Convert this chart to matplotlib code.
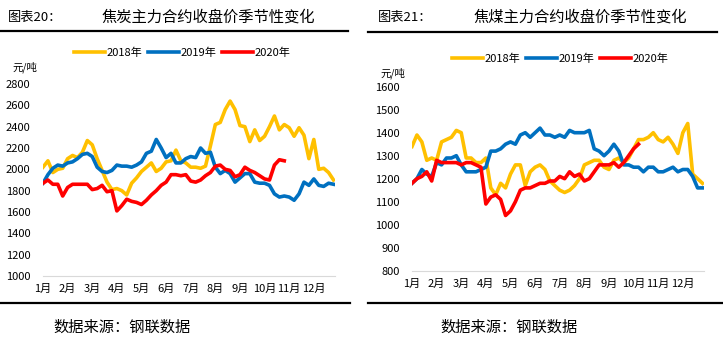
import numpy as np
import matplotlib
matplotlib.use("Agg")
import matplotlib.pyplot as plt
from matplotlib.lines import Line2D

plt.rcParams['font.family'] = ['Noto Sans CJK SC', 'DejaVu Sans']

# x axis: one point every 0.2 month
months = ["1月", "2月", "3月", "4月", "5月", "6月", "7月", "8月", "9月", "10月", "11月", "12月"]
years = ["2018年", "2019年", "2020年"]
colors = ["#FFC000", "#0070C0", "#FF0000"]

# 焦炭 (coke)
coke_2018 = [2020, 2080, 1970, 2000, 2010, 2100, 2130, 2110, 2160, 2270,
             2230, 2100, 1990, 1880, 1810, 1820, 1800, 1760, 1870, 1920,
             1980, 2020, 2060, 1980, 2010, 2070, 2080, 2180, 2080, 2060,
             2020, 2020, 2010, 2030, 2220, 2420, 2440, 2560, 2640, 2560,
             2410, 2400, 2260, 2370, 2270, 2310, 2400, 2500, 2370, 2420,
             2390, 2310, 2390, 2320, 2100, 2280, 2000, 2010, 1970, 1900]
coke_2019 = [1870, 1950, 2010, 2040, 2030, 2060, 2070, 2100, 2140, 2150,
             2120, 2020, 1980, 1970, 1990, 2040, 2030, 2030, 2020, 2040,
             2070, 2150, 2170, 2280, 2200, 2110, 2150, 2060, 2060, 2100,
             2120, 2110, 2200, 2150, 2160, 2020, 1960, 1990, 1960, 1880,
             1920, 1960, 1960, 1880, 1870, 1870, 1850, 1770, 1740, 1750,
             1740, 1710, 1770, 1880, 1850, 1910, 1850, 1840, 1870, 1860]
coke_2020 = [1870, 1900, 1860, 1860, 1750, 1830, 1860, 1860, 1860, 1860,
             1810, 1820, 1850, 1790, 1800, 1610, 1660, 1720, 1700, 1690,
             1670, 1710, 1760, 1800, 1850, 1880, 1950, 1950, 1940, 1950,
             1890, 1880, 1900, 1940, 1970, 2030, 2040, 2000, 1990, 1930,
             1950, 2020, 1990, 1970, 1940, 1910, 1900, 2040, 2090, 2080]

# 焦煤 (coking coal)
coal_2018 = [1340, 1390, 1360, 1280, 1290, 1280, 1360, 1370, 1380, 1410,
             1400, 1290, 1290, 1270, 1270, 1290, 1160, 1130, 1180, 1160,
             1220, 1260, 1260, 1170, 1230, 1250, 1260, 1240, 1190, 1170,
             1150, 1140, 1150, 1170, 1200, 1260, 1270, 1280, 1280, 1250,
             1240, 1280, 1290, 1270, 1290, 1330, 1370, 1370, 1380, 1400,
             1370, 1360, 1380, 1350, 1310, 1400, 1440, 1220, 1200, 1180]
coal_2019 = [1180, 1200, 1240, 1220, 1210, 1270, 1260, 1290, 1290, 1300,
             1260, 1230, 1230, 1230, 1240, 1250, 1320, 1320, 1330, 1350,
             1360, 1350, 1390, 1400, 1380, 1400, 1420, 1390, 1390, 1380,
             1390, 1380, 1410, 1400, 1400, 1400, 1410, 1330, 1320, 1300,
             1320, 1350, 1320, 1260, 1260, 1250, 1250, 1230, 1250, 1250,
             1230, 1230, 1240, 1250, 1230, 1240, 1240, 1210, 1160, 1160]
coal_2020 = [1180, 1200, 1210, 1230, 1190, 1280, 1270, 1270, 1270, 1270,
             1260, 1270, 1270, 1260, 1250, 1090, 1120, 1130, 1110, 1040,
             1060, 1100, 1150, 1160, 1160, 1170, 1180, 1180, 1190, 1190,
             1210, 1200, 1230, 1210, 1220, 1190, 1200, 1230, 1260, 1260,
             1260, 1270, 1250, 1270, 1300, 1330, 1350]

W, H = 723, 347


def fx(px):
    return px / W


def fy(py):
    return 1 - py / H


def draw_panel(fig, rect, series, yticks, label, title, title_x, tag_x, leg_x, leg_y, unit_xy):
    ax = fig.add_axes(rect)
    for vals, c in zip(series, colors):
        x = np.arange(len(vals)) / 5.0
        ax.plot(x, vals, color=c, lw=2.6, solid_joinstyle='round')
    ax.set_xlim(0, 11.86)
    ax.set_ylim(yticks[0], yticks[-1])
    ax.set_yticks(yticks)
    ax.set_yticklabels([str(v) for v in yticks], fontsize=8)
    ax.set_xticks(range(12))
    ax.set_xticklabels(months, fontsize=8)
    for s in ["top", "right", "left"]:
        ax.spines[s].set_visible(False)
    ax.spines["bottom"].set_color("#D9D9D9")
    ax.tick_params(axis="both", length=0)
    ax.tick_params(axis="y", pad=9)
    ax.tick_params(axis="x", pad=6)

    handles = [Line2D([], [], color=c, lw=2.6) for c in colors]
    fig.legend(handles, years, loc="center", bbox_to_anchor=(fx(leg_x), fy(leg_y)),
               ncol=3, frameon=False, fontsize=8, handlelength=2.8,
               handletextpad=0.15, columnspacing=0.5)

    fig.text(fx(tag_x), fy(17), label, fontsize=9.5, va="center", ha="left")
    fig.text(fx(title_x), fy(17), title, fontsize=11, va="center", ha="center")
    fig.text(fx(unit_xy[0]), fy(unit_xy[1]), "元/吨", fontsize=7.5, va="center", ha="left")
    return ax


fig = plt.figure(figsize=(W / 100, H / 100), dpi=100)

draw_panel(fig, [fx(43), fy(276), fx(335 - 43), (276 - 84) / H],
           [coke_2018, coke_2019, coke_2020],
           list(range(1000, 2801, 200)),
           "图表20：", "焦炭主力合约收盘价季节性变化", 208, 8, 182, 53, (12, 67))

draw_panel(fig, [fx(412), fy(270.7), fx(704 - 412), (270.7 - 86.7) / H],
           [coal_2018, coal_2019, coal_2020],
           list(range(800, 1601, 100)),
           "图表21：", "焦煤主力合约收盘价季节性变化", 580, 378, 560, 59, (380, 73))

# rules above titles and below charts
fig.add_artist(Line2D([fx(0), fx(348)], [fy(31), fy(31)], color="black", lw=1.6))
fig.add_artist(Line2D([fx(368), fx(717)], [fy(31.5), fy(31.5)], color="black", lw=1.6))
fig.add_artist(Line2D([fx(0), fx(350)], [fy(303), fy(303)], color="black", lw=1.6))
fig.add_artist(Line2D([fx(368), fx(723)], [fy(303), fy(303)], color="black", lw=1.6))

fig.text(fx(53), fy(327), "数据来源：钢联数据", fontsize=11, va="center", ha="left")
fig.text(fx(440), fy(327), "数据来源：钢联数据", fontsize=11, va="center", ha="left")

fig.savefig("out.png", dpi=100)
